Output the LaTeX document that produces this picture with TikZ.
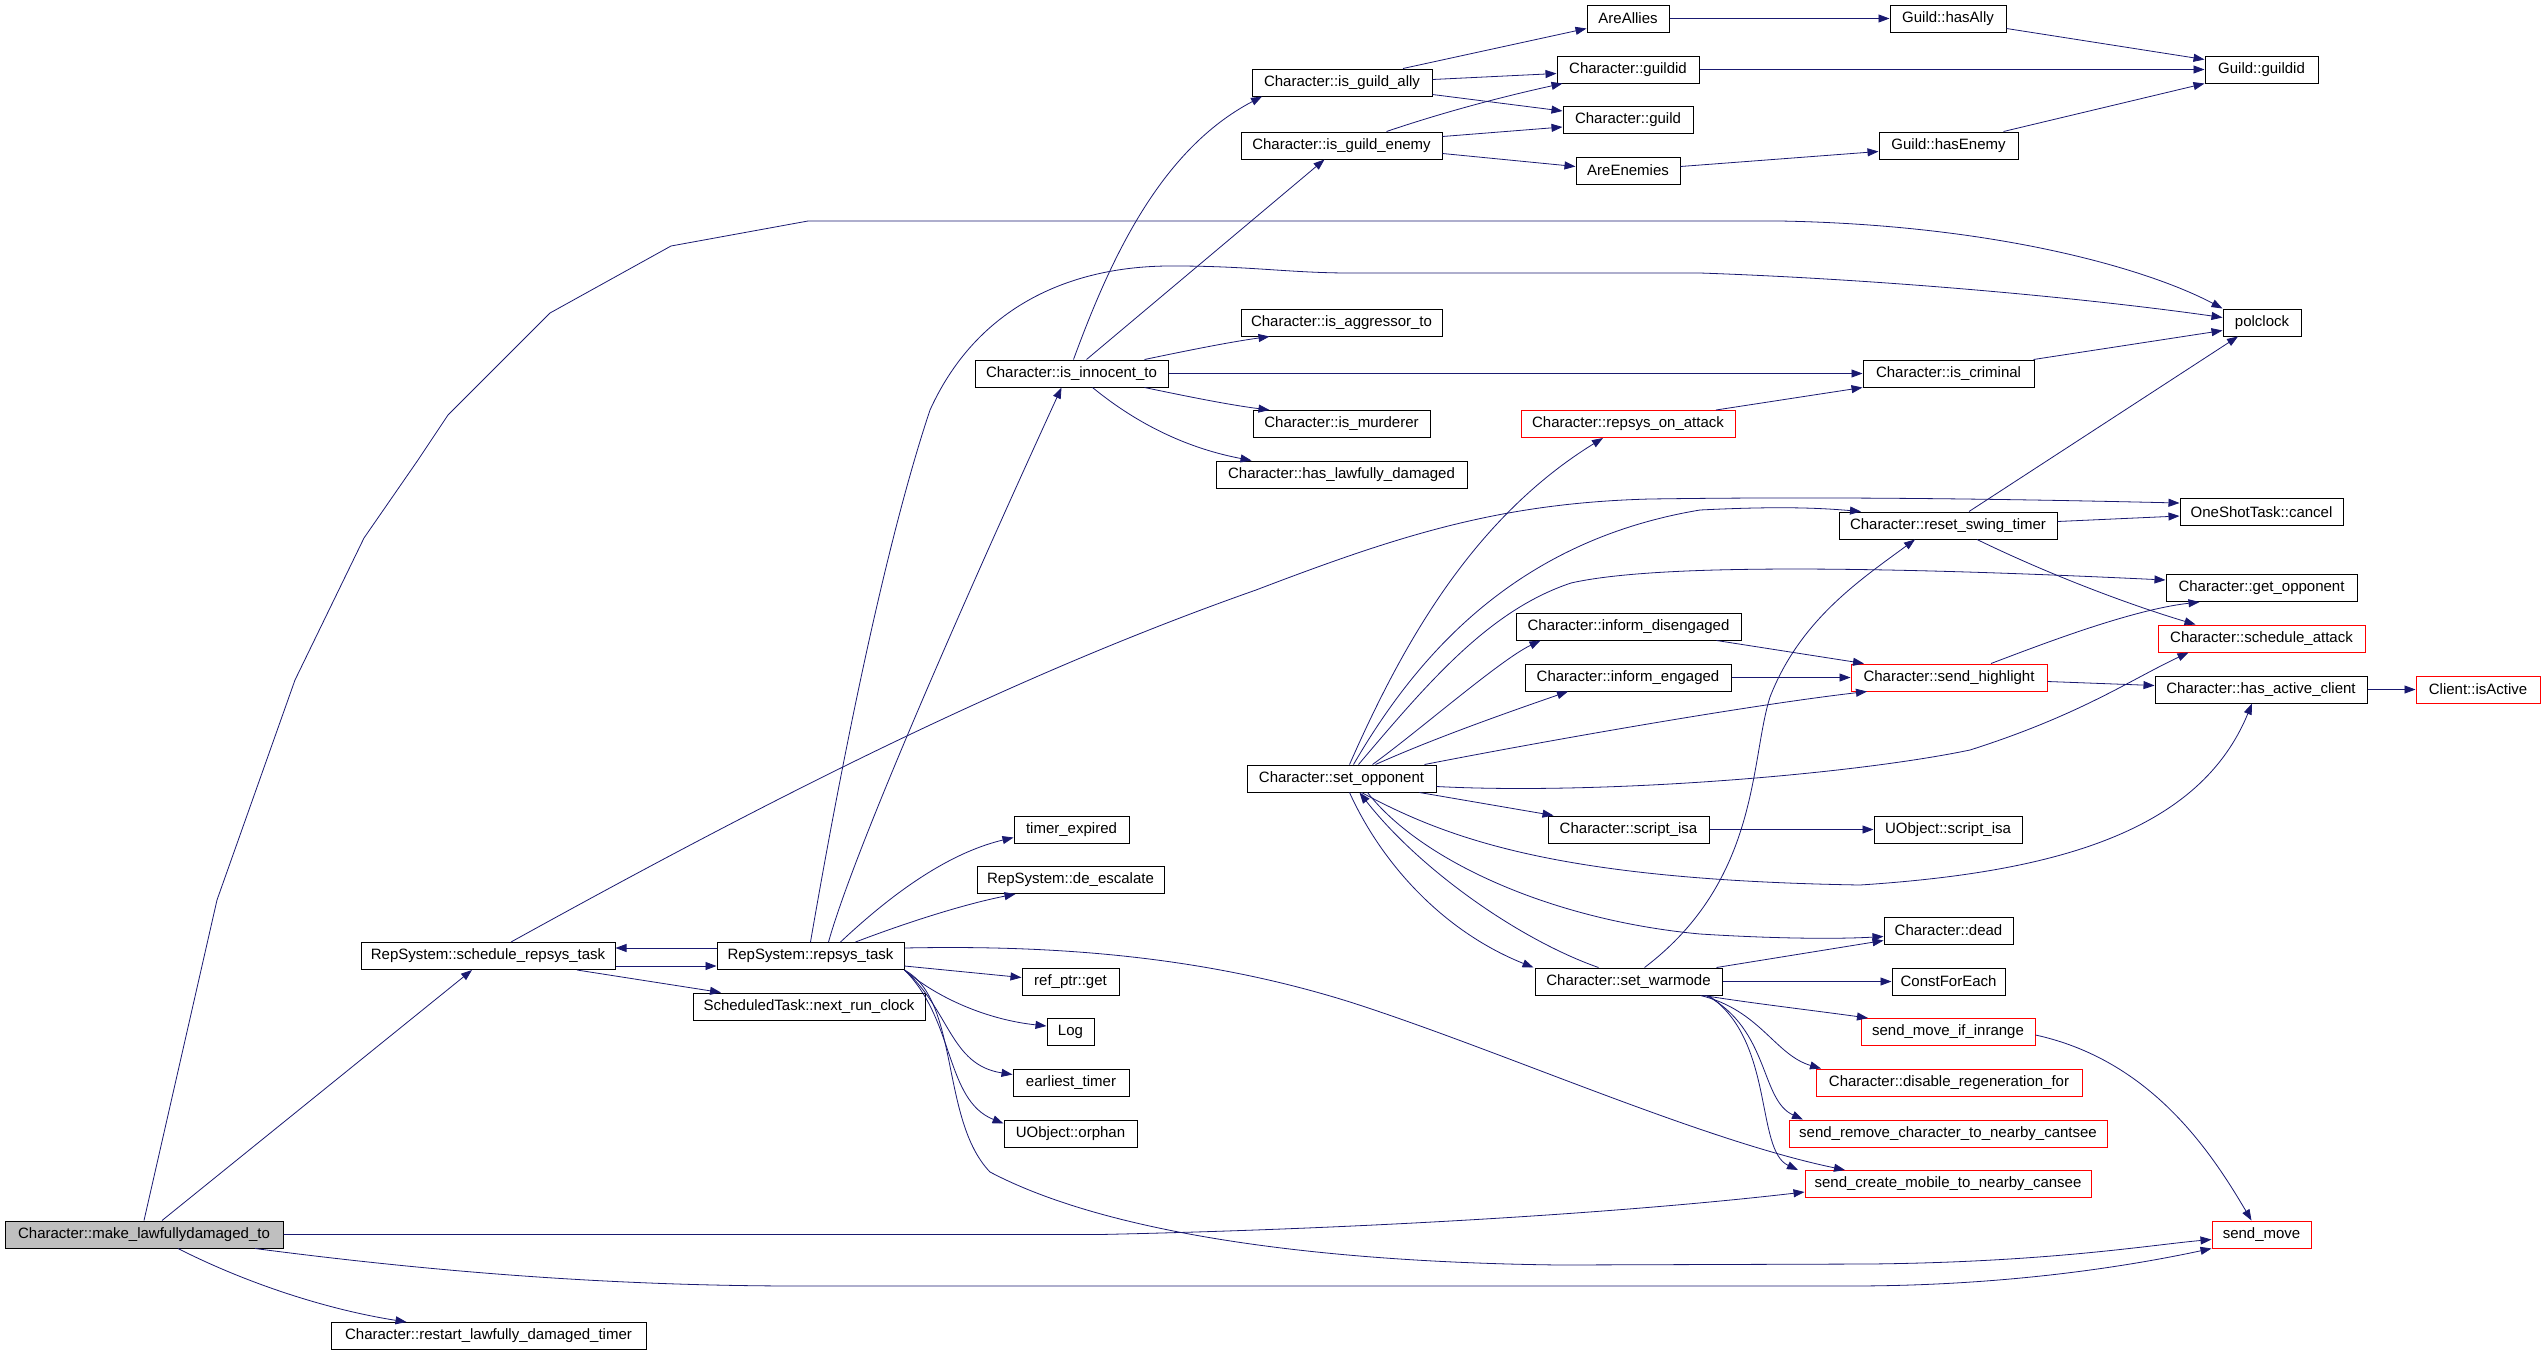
\documentclass[tikz,border=0pt]{standalone}
\usepackage{fontspec}
\setmainfont{Liberation Sans}
\usepackage{tikz}
\usetikzlibrary{arrows.meta, positioning}
\definecolor{callblue}{RGB}{25,25,112}
\definecolor{rootgray}{RGB}{191,191,191}

\begin{document}
\begin{tikzpicture}[x=1pt, y=-1pt,
    fn/.style={draw=black, line width=1pt, minimum height=27pt, inner sep=0pt, font=\fontsize{15}{18}\selectfont},
    redfn/.style={fn, draw=red},
    callarrow/.style={draw=callblue, line width=0.8pt, -{Triangle[length=11pt,width=8pt]}}
]
    \useasboundingbox (0,0) rectangle (2544,1355);

    % Column 1 - the function itself
    \node[fn, minimum width=278pt, fill=rootgray] (root) at (144,1234.5) {Character::make\_lawfullydamaged\_to};

    % Column 2
    \node[fn, minimum width=254pt] (sched) at (488,956) {RepSystem::schedule\_repsys\_task};
    \node[fn, minimum width=315pt] (restart) at (488.5,1336) {Character::restart\_lawfully\_damaged\_timer};

    % Column 3
    \node[fn, minimum width=187pt] (repsys) at (810.5,956) {RepSystem::repsys\_task};
    \node[fn, minimum width=232pt] (nextrun) at (809,1006.5) {ScheduledTask::next\_run\_clock};

    % Column 4
    \node[fn, minimum width=193pt] (innocent) at (1071.5,373.5) {Character::is\_innocent\_to};
    \node[fn, minimum width=115pt] (timerexp) at (1071.5,829.5) {timer\_expired};
    \node[fn, minimum width=187pt] (deesc) at (1070.5,880) {RepSystem::de\_escalate};
    \node[fn, minimum width=97pt] (refget) at (1070.5,981.5) {ref\_ptr::get};
    \node[fn, minimum width=47pt] (log) at (1070.5,1032) {Log};
    \node[fn, minimum width=116pt] (earliest) at (1071,1082.5) {earliest\_timer};
    \node[fn, minimum width=133pt] (orphan) at (1070.5,1133.5) {UObject::orphan};

    % Column 5
    \node[fn, minimum width=180pt] (guildally) at (1342,82.5) {Character::is\_guild\_ally};
    \node[fn, minimum width=201pt] (guildenemy) at (1341.5,145.5) {Character::is\_guild\_enemy};
    \node[fn, minimum width=201pt] (aggressor) at (1341.5,322.5) {Character::is\_aggressor\_to};
    \node[fn, minimum width=177pt] (murderer) at (1341.5,424) {Character::is\_murderer};
    \node[fn, minimum width=251pt] (haslawful) at (1341.5,474.5) {Character::has\_lawfully\_damaged};
    \node[fn, minimum width=189pt] (setopp) at (1341.5,778.5) {Character::set\_opponent};

    % Column 6
    \node[fn, minimum width=82pt] (areallies) at (1628,18.5) {AreAllies};
    \node[fn, minimum width=142pt] (charguildid) at (1628,69.5) {Character::guildid};
    \node[fn, minimum width=130pt] (charguild) at (1628,120) {Character::guild};
    \node[fn, minimum width=104pt] (areenemies) at (1628,170.5) {AreEnemies};
    \node[redfn, minimum width=214pt] (repsysattack) at (1628,424) {Character::repsys\_on\_attack};
    \node[fn, minimum width=225pt] (informdis) at (1628.5,626.5) {Character::inform\_disengaged};
    \node[fn, minimum width=206pt] (informeng) at (1628,677.5) {Character::inform\_engaged};
    \node[fn, minimum width=161pt] (scriptisa) at (1628.5,829.5) {Character::script\_isa};
    \node[fn, minimum width=187pt] (setwarmode) at (1628.5,981.5) {Character::set\_warmode};

    % Column 7
    \node[fn, minimum width=116pt] (hasally) at (1948,18.5) {Guild::hasAlly};
    \node[fn, minimum width=139pt] (hasenemy) at (1948.5,145.5) {Guild::hasEnemy};
    \node[fn, minimum width=171pt] (criminal) at (1948.5,373.5) {Character::is\_criminal};
    \node[fn, minimum width=218pt] (resetswing) at (1948,525.5) {Character::reset\_swing\_timer};
    \node[redfn, minimum width=196pt] (highlight) at (1949,677.5) {Character::send\_highlight};
    \node[fn, minimum width=148pt] (uobjisa) at (1948,829.5) {UObject::script\_isa};
    \node[fn, minimum width=129pt] (dead) at (1948.5,930.5) {Character::dead};
    \node[fn, minimum width=113pt] (constfor) at (1948.5,981.5) {ConstForEach};
    \node[redfn, minimum width=174pt] (moveinrange) at (1948,1032) {send\_move\_if\_inrange};
    \node[redfn, minimum width=266pt] (disregen) at (1949,1082.5) {Character::disable\_regeneration\_for};
    \node[redfn, minimum width=318pt] (sendremove) at (1948,1133.5) {send\_remove\_character\_to\_nearby\_cantsee};
    \node[redfn, minimum width=286pt] (sendcreate) at (1948,1184) {send\_create\_mobile\_to\_nearby\_cansee};

    % Column 8
    \node[fn, minimum width=113pt] (guildguildid) at (2261.5,69.5) {Guild::guildid};
    \node[fn, minimum width=78pt] (polclock) at (2262,322.5) {polclock};
    \node[fn, minimum width=163pt] (cancel) at (2261.5,512) {OneShotTask::cancel};
    \node[fn, minimum width=191pt] (getopp) at (2261.5,588) {Character::get\_opponent};
    \node[redfn, minimum width=207pt] (schedattack) at (2261.5,638.5) {Character::schedule\_attack};
    \node[fn, minimum width=212pt] (activeclient) at (2261,689.5) {Character::has\_active\_client};
    \node[redfn, minimum width=99pt] (sendmove) at (2261.5,1234.5) {send\_move};

    % Column 9
    \node[redfn, minimum width=124pt] (isactive) at (2478,689.5) {Client::isActive};

    % Calls from the root
    \draw[callarrow] (root.north) -- (217,900) -- (295,680) -- (364,538) -- (418,460) -- (448,415) -- (550,313) -- (671,246) -- (808,221) -- (1780,221) .. controls (2000,225) and (2150,270) .. (polclock.north west);
    \draw[callarrow] ([xshift=18pt]root.north) -- ([xshift=-16pt]sched.south);
    \draw[callarrow] (root.east) -- (1100,1234.5) .. controls (1400,1228) and (1650,1210) .. ([yshift=-8pt]sendcreate.west);
    \draw[callarrow] ([xshift=111pt]root.south) .. controls (420,1270) and (600,1286) .. (800,1286) -- (1850,1286) .. controls (2000,1286) and (2120,1268) .. (sendmove.south west);
    \draw[callarrow] ([xshift=34pt]root.south) .. controls (250,1285) and (330,1310) .. ([xshift=-82pt]restart.north);

    % RepSystem::schedule_repsys_task
    \draw[callarrow] ([xshift=23pt]sched.north) .. controls (750,810) and (1000,680) .. (1256,590) .. controls (1400,535) and (1500,503) .. (1650,499) .. controls (1850,496) and (2050,500) .. ([yshift=9pt]cancel.west);
    \draw[callarrow] ([yshift=-10pt]sched.east) -- ([yshift=-10pt]repsys.west);
    \draw[callarrow] ([yshift=8pt]repsys.west) -- ([yshift=8pt]sched.east);
    \draw[callarrow] ([xshift=89pt]sched.south) -- ([xshift=-88pt]nextrun.north);

    % RepSystem::repsys_task
    \draw[callarrow] (repsys.north) .. controls (835,800) and (880,560) .. (930,410) .. controls (980,300) and (1080,265) .. (1175,266) .. controls (1250,266) and (1290,273) .. (1350,273) -- (1700,273) .. controls (1900,280) and (2100,300) .. ([yshift=5pt]polclock.west);
    \draw[callarrow] ([xshift=18pt]repsys.north) .. controls (860,830) and (1010,500) .. ([xshift=-10pt]innocent.south);
    \draw[callarrow] ([xshift=30pt]repsys.north) .. controls (880,905) and (940,855) .. ([yshift=-8pt]timerexp.west);
    \draw[callarrow] ([xshift=45pt]repsys.north) .. controls (900,925) and (960,905) .. ([xshift=-55pt]deesc.south);
    \draw[callarrow] ([yshift=-10pt]repsys.east) -- ([yshift=4pt]refget.west);
    \draw[callarrow] (repsys.south east) .. controls (940,1000) and (990,1020) .. ([yshift=6pt]log.west);
    \draw[callarrow] (repsys.south east) .. controls (950,1010) and (950,1065) .. ([yshift=8pt]earliest.west);
    \draw[callarrow] (repsys.south east) .. controls (955,1020) and (945,1100) .. ([yshift=10pt]orphan.west);
    \draw[callarrow] (repsys.south east) .. controls (960,1000) and (940,1120) .. (990,1172) .. controls (1100,1230) and (1300,1262) .. (1560,1265) -- (1870,1264) .. controls (2050,1262) and (2150,1245) .. ([yshift=-5pt]sendmove.west);
    \draw[callarrow] ([yshift=8pt]repsys.east) .. controls (1050,945) and (1200,955) .. (1350,1002) .. controls (1500,1050) and (1700,1140) .. ([xshift=-103pt]sendcreate.north);

    % Character::is_innocent_to
    \draw[callarrow] ([xshift=2pt]innocent.north) .. controls (1110,260) and (1160,150) .. ([xshift=-80pt]guildally.south);
    \draw[callarrow] ([xshift=15pt]innocent.north) -- ([xshift=-17pt]guildenemy.south);
    \draw[callarrow] ([xshift=73pt]innocent.north) .. controls (1190,350) and (1230,342) .. ([xshift=-72pt]aggressor.south);
    \draw[callarrow] (innocent.east) -- (criminal.west);
    \draw[callarrow] ([xshift=73pt]innocent.south) .. controls (1190,397) and (1230,405) .. ([xshift=-72pt]murderer.north);
    \draw[callarrow] ([xshift=21pt]innocent.south) .. controls (1120,410) and (1170,445) .. ([xshift=-90pt]haslawful.north);

    % guild checks
    \draw[callarrow] ([xshift=61pt]guildally.north) -- ([yshift=-10pt]areallies.west);
    \draw[callarrow] ([yshift=3pt]guildally.east) -- ([yshift=-4pt]charguildid.west);
    \draw[callarrow] ([yshift=-12pt]guildally.east) -- ([yshift=9pt]charguild.west);
    \draw[callarrow] ([xshift=45pt]guildenemy.north) .. controls (1450,110) and (1510,95) .. ([xshift=6pt]charguildid.south west);
    \draw[callarrow] ([yshift=9pt]guildenemy.east) -- ([yshift=-7pt]charguild.west);
    \draw[callarrow] ([yshift=-8pt]guildenemy.east) -- ([yshift=4pt]areenemies.west);
    \draw[callarrow] (charguildid) -- (guildguildid);
    \draw[callarrow] (areallies) -- (hasally);
    \draw[callarrow] ([yshift=-10pt]hasally.east) -- ([yshift=10pt]guildguildid.west);
    \draw[callarrow] ([yshift=4pt]areenemies.east) -- ([yshift=-6pt]hasenemy.west);
    \draw[callarrow] ([xshift=55pt]hasenemy.north) -- (guildguildid.south west);

    % criminal / timers
    \draw[callarrow] ([xshift=85pt]criminal.north) -- ([yshift=-8pt]polclock.west);
    \draw[callarrow] ([xshift=88pt]repsysattack.north) -- (criminal.south west);
    \draw[callarrow] ([xshift=21pt]resetswing.north) -- ([xshift=-24pt]polclock.south);
    \draw[callarrow] ([yshift=4pt]resetswing.east) -- ([yshift=-4pt]cancel.west);
    \draw[callarrow] ([xshift=29pt]resetswing.south) .. controls (2050,575) and (2130,605) .. ([xshift=-66pt]schedattack.north);
    \draw[callarrow] ([xshift=42pt]highlight.north) .. controls (2040,645) and (2130,610) .. ([xshift=-62pt]getopp.south);
    \draw[callarrow] ([yshift=-4pt]highlight.east) -- ([yshift=4pt]activeclient.west);
    \draw[callarrow] (activeclient) -- (isactive);
    \draw[callarrow] ([xshift=88pt]informdis.south) -- ([xshift=-85pt]highlight.north);
    \draw[callarrow] (informeng) -- (highlight);

    % Character::set_opponent
    \draw[callarrow] ([xshift=8pt]setopp.north) .. controls (1400,650) and (1470,520) .. ([xshift=-25pt]repsysattack.south);
    \draw[callarrow] ([xshift=12pt]setopp.north) .. controls (1420,650) and (1520,540) .. (1700,510) .. controls (1780,506) and (1820,508) .. ([xshift=-87pt]resetswing.north);
    \draw[callarrow] ([xshift=17pt]setopp.north) .. controls (1430,680) and (1490,610) .. (1571,583) .. controls (1650,565) and (1850,565) .. ([yshift=8pt]getopp.west);
    \draw[callarrow] ([xshift=31pt]setopp.north) .. controls (1420,730) and (1500,660) .. ([xshift=-88pt]informdis.south);
    \draw[callarrow] ([xshift=34pt]setopp.north) .. controls (1430,740) and (1500,715) .. ([xshift=-60pt]informeng.south);
    \draw[callarrow] ([xshift=83pt]setopp.north) .. controls (1550,740) and (1750,705) .. ([xshift=-82pt]highlight.south);
    \draw[callarrow] ([yshift=-8pt]setopp.east) .. controls (1600,795) and (1850,775) .. (1970,750) .. controls (2080,715) and (2130,680) .. ([xshift=-73pt]schedattack.south);
    \draw[callarrow] ([xshift=78pt]setopp.south) -- ([xshift=-75pt]scriptisa.north);
    \draw[callarrow] ([xshift=20pt]setopp.south) .. controls (1450,840) and (1560,880) .. (1860,885) .. controls (2060,872) and (2200,830) .. ([xshift=-9pt]activeclient.south);
    \draw[callarrow] ([xshift=8pt]setopp.south) .. controls (1380,860) and (1440,930) .. ([xshift=-95pt]setwarmode.north);
    \draw[callarrow] ([xshift=26pt]setopp.south) .. controls (1420,860) and (1550,920) .. (1700,934) .. controls (1780,939) and (1840,939) .. ([yshift=-6pt]dead.west);
    \draw[callarrow] (scriptisa) -- (uobjisa);

    % Character::set_warmode
    \draw[callarrow] ([xshift=-30pt]setwarmode.north) .. controls (1520,940) and (1420,870) .. ([xshift=18pt]setopp.south);
    \draw[callarrow] ([xshift=88pt]setwarmode.north) -- ([yshift=-10pt]dead.west);
    \draw[callarrow] ([xshift=16pt]setwarmode.north) .. controls (1760,880) and (1750,760) .. (1770,697) .. controls (1800,620) and (1860,580) .. ([xshift=-33pt]resetswing.south);
    \draw[callarrow] (setwarmode) -- (constfor);
    \draw[callarrow] ([xshift=75pt]setwarmode.south) .. controls (1750,1003) and (1810,1010) .. ([xshift=-80pt]moveinrange.north);
    \draw[callarrow] ([xshift=72pt]setwarmode.south) .. controls (1760,1010) and (1775,1055) .. ([xshift=-128pt]disregen.north);
    \draw[callarrow] ([xshift=78pt]setwarmode.south) .. controls (1770,1030) and (1760,1100) .. ([xshift=-145pt]sendremove.north);
    \draw[callarrow] ([xshift=80pt]setwarmode.south) .. controls (1775,1040) and (1755,1150) .. ([xshift=-150pt]sendcreate.north);
    \draw[callarrow] ([yshift=-3pt]moveinrange.east) .. controls (2150,1060) and (2210,1150) .. ([xshift=-10pt]sendmove.north);

\end{tikzpicture}
\end{document}
